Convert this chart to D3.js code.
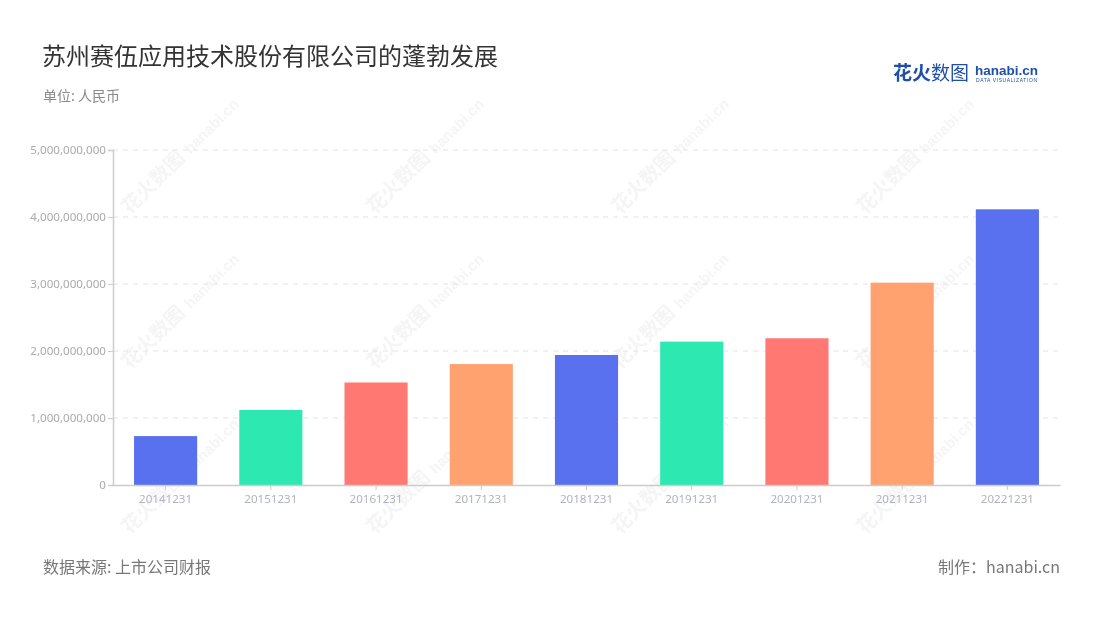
<!DOCTYPE html>
<html><head><meta charset="utf-8">
<script src="https://cdn.jsdelivr.net/npm/d3@7"></script>
<style>body{margin:0;background:#fff;font-family:"Noto Sans CJK SC","Noto Sans",sans-serif}</style>
</head><body><svg id="c" width="1100" height="620"></svg>
<script>
const categories=["20141231","20151231","20161231","20171231","20181231","20191231","20201231","20211231","20221231"];
const values=[730000000,1120000000,1530000000,1805000000,1940000000,2140000000,2190000000,3020000000,4115000000];
const colors=["#5970ef","#2ee8b2","#ff7872","#ffa270","#5970ef","#2ee8b2","#ff7872","#ffa270","#5970ef"];
const yTicks=[0,1000000000,2000000000,3000000000,4000000000,5000000000];

const svg=d3.select("#c");
const m={l:113,r:1060,t:150,b:485};
const x=d3.scaleBand().domain(categories).range([m.l,m.r]).paddingInner(0.4).paddingOuter(0.2);
const y=d3.scaleLinear().domain([0,5000000000]).range([m.b,m.t]);

// watermarks
const wm=svg.append("g").attr("opacity",0.07).attr("fill","#666");
[165,410,655,900].forEach(cx=>{[180,335,500].forEach(cy=>{
  const g=wm.append("g").attr("transform",`translate(${cx},${cy}) rotate(-45)`);
  g.append("text").attr("x",-50).attr("y",0).attr("font-size",20).attr("font-weight","bold").text("花火数图");
  g.append("text").attr("x",36).attr("y",0).attr("font-size",15).attr("font-weight","bold").attr("font-family","Arial,sans-serif").text("hanabi.cn");
});});

// grid
svg.append("g").selectAll("line").data(yTicks.slice(1)).join("line")
 .attr("x1",m.l).attr("x2",m.r).attr("y1",d=>y(d)).attr("y2",d=>y(d))
 .attr("stroke","#e3e3e3").attr("stroke-dasharray","5,5");

// bars
svg.append("g").selectAll("rect").data(values).join("rect")
 .attr("x",(d,i)=>x(categories[i])).attr("width",x.bandwidth())
 .attr("y",d=>y(d)).attr("height",d=>y(0)-y(d))
 .attr("fill",(d,i)=>colors[i]);

// y axis
const ya=svg.append("g").attr("transform",`translate(${m.l},0)`)
 .call(d3.axisLeft(y).tickValues(yTicks).tickSize(5).tickPadding(2).tickFormat(d3.format(",")));
ya.select(".domain").attr("stroke","#cccccc").attr("stroke-width",1.5);
ya.selectAll(".tick line").attr("stroke","#cccccc");
ya.selectAll("text").attr("fill","#aaaaaa").attr("font-size",11.6).attr("font-family","'Noto Sans',sans-serif");

// x axis
const xa=svg.append("g").attr("transform",`translate(0,${m.b})`)
 .call(d3.axisBottom(x).tickSize(5).tickSizeOuter(0).tickPadding(5));
xa.select(".domain").attr("stroke","#cccccc").attr("stroke-width",1.5);
xa.selectAll(".tick line").attr("stroke","#cccccc");
xa.selectAll("text").attr("fill","#b0b3c0").attr("font-size",11.6).attr("font-family","'Noto Sans',sans-serif");

// title
svg.append("text").attr("x",42).attr("y",65).attr("font-size",24).attr("fill","#333").text("苏州赛伍应用技术股份有限公司的蓬勃发展");
svg.append("text").attr("x",43).attr("y",101).attr("font-size",14).attr("fill","#8a8a8a").text("单位: 人民币");
svg.append("text").attr("x",43).attr("y",573).attr("font-size",16).attr("fill","#777").text("数据来源: 上市公司财报");
svg.append("text").attr("x",1060).attr("y",573).attr("text-anchor","end").attr("font-size",16).attr("fill","#777").text("制作：hanabi.cn");

// logo
const lg=svg.append("g");
lg.append("text").attr("x",893).attr("y",80).attr("font-size",19).attr("font-weight","bold").attr("fill","#1f4fa8").text("花火");
lg.append("text").attr("x",931).attr("y",80).attr("font-size",19).attr("fill","#1f4fa8").text("数图");
lg.append("text").attr("x",975).attr("y",75).attr("font-size",13.5).attr("font-weight","bold").attr("font-family","Arial,sans-serif").attr("fill","#1f4fa8").text("hanabi.cn");
lg.append("text").attr("x",976).attr("y",82).attr("font-size",5).attr("font-family","Arial,sans-serif").attr("fill","#1f4fa8").attr("letter-spacing",0.6).text("DATA VISUALIZATION");
</script></body></html>
